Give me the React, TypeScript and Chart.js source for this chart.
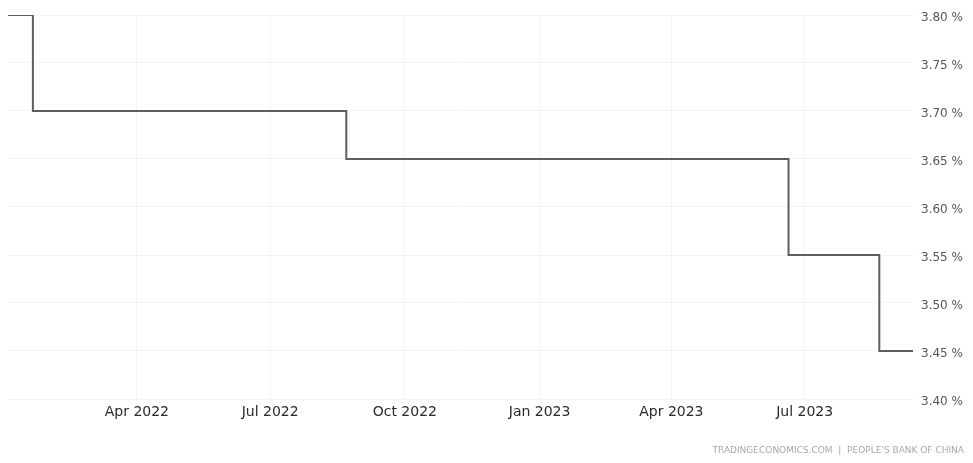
import { useEffect, useRef } from 'react';
import { Chart, registerables } from 'chart.js';

Chart.register(...registerables);

// China 1-year Loan Prime Rate fixings (%)
const fixingDates = [
  '2021-12-20', '2022-01-20', '2022-02-21', '2022-03-21', '2022-04-20', '2022-05-20',
  '2022-06-20', '2022-07-20', '2022-08-22', '2022-09-20', '2022-10-20', '2022-11-21',
  '2022-12-20', '2023-01-20', '2023-02-20', '2023-03-20', '2023-04-20', '2023-05-22',
  '2023-06-20', '2023-07-20', '2023-08-21', '2023-09-20',
];
const rateValues = [
  3.8, 3.7, 3.7, 3.7, 3.7, 3.7,
  3.7, 3.7, 3.65, 3.65, 3.65, 3.65,
  3.65, 3.65, 3.65, 3.65, 3.65, 3.65,
  3.55, 3.55, 3.45, 3.45,
];
const xTickDates = ['2022-04-01', '2022-07-01', '2022-10-01', '2023-01-01', '2023-04-01', '2023-07-01'];
const yTickValues = [3.4, 3.45, 3.5, 3.55, 3.6, 3.65, 3.7, 3.75, 3.8];
const xRangeStart = '2022-01-03';
const xRangeEnd = '2023-09-13';
const monthNames = ['Jan', 'Feb', 'Mar', 'Apr', 'May', 'Jun', 'Jul', 'Aug', 'Sep', 'Oct', 'Nov', 'Dec'];
const sourceText = "TRADINGECONOMICS.COM  |  PEOPLE'S BANK OF CHINA";

const DAY = 86400000;
const toDay = (s: string) => {
  const [y, m, d] = s.split('-').map(Number);
  return Date.UTC(y, m - 1, d) / DAY;
};
const dayLabel = (v: number) => {
  const dt = new Date(Math.round(v) * DAY);
  return `${monthNames[dt.getUTCMonth()]} ${dt.getUTCFullYear()}`;
};

const footerPlugin = {
  id: 'footerSource',
  afterDraw(chart: any) {
    const { ctx, width } = chart;
    ctx.save();
    ctx.font = '9px "DejaVu Sans"';
    ctx.fillStyle = '#a8a8a8';
    ctx.textAlign = 'right';
    ctx.textBaseline = 'middle';
    ctx.fillText(sourceText, width - 1, 443);
    ctx.restore();
  },
};

export default function App() {
  const canvasRef = useRef<HTMLCanvasElement | null>(null);

  useEffect(() => {
    if (!canvasRef.current) return;
    const points = fixingDates.map((d, i) => ({ x: toDay(d), y: rateValues[i] }));
    const chart = new Chart(canvasRef.current, {
      type: 'line',
      data: {
        datasets: [
          {
            data: points,
            stepped: 'before',
            borderColor: '#5e5e5e',
            borderWidth: 2,
            pointRadius: 0,
            fill: false,
          },
        ],
      },
      options: {
        animation: false,
        responsive: false,
        layout: { padding: { top: 7, left: 0, right: 0, bottom: 0 } },
        plugins: { legend: { display: false }, tooltip: { enabled: false } },
        scales: {
          x: {
            type: 'linear',
            min: toDay(xRangeStart),
            max: toDay(xRangeEnd),
            afterBuildTicks: (axis: any) => {
              axis.ticks = xTickDates.map((d) => ({ value: toDay(d) }));
            },
            afterFit: (axis: any) => {
              axis.height = 56;
            },
            grid: { color: 'rgba(0,0,0,0.045)', drawTicks: false },
            border: { display: false },
            ticks: {
              autoSkip: false,
              maxRotation: 0,
              padding: 5,
              color: '#2a2a2a',
              font: { family: '"DejaVu Sans"', size: 14 },
              callback: (v: any) => dayLabel(Number(v)),
            },
          },
          y: {
            position: 'right',
            min: 3.4,
            max: 3.8,
            afterBuildTicks: (axis: any) => {
              axis.ticks = yTickValues.map((v) => ({ value: v }));
            },
            afterFit: (axis: any) => {
              axis.width = 52;
              axis.paddingTop = 0;
              axis.paddingBottom = 0;
            },
            grid: { color: 'rgba(0,0,0,0.045)', drawTicks: false },
            border: { display: false },
            ticks: {
              padding: 8,
              labelOffset: 3,
              color: '#555555',
              font: { family: '"DejaVu Sans"', size: 12 },
              callback: (v: any) => `${Number(v).toFixed(2)} %`,
            },
          },
        },
      },
      plugins: [footerPlugin],
    });
    return () => chart.destroy();
  }, []);

  return (
    <div style={{ width: 957, height: 447 }}>
      <canvas ref={canvasRef} width={957} height={447} style={{ display: 'block' }} />
    </div>
  );
}
